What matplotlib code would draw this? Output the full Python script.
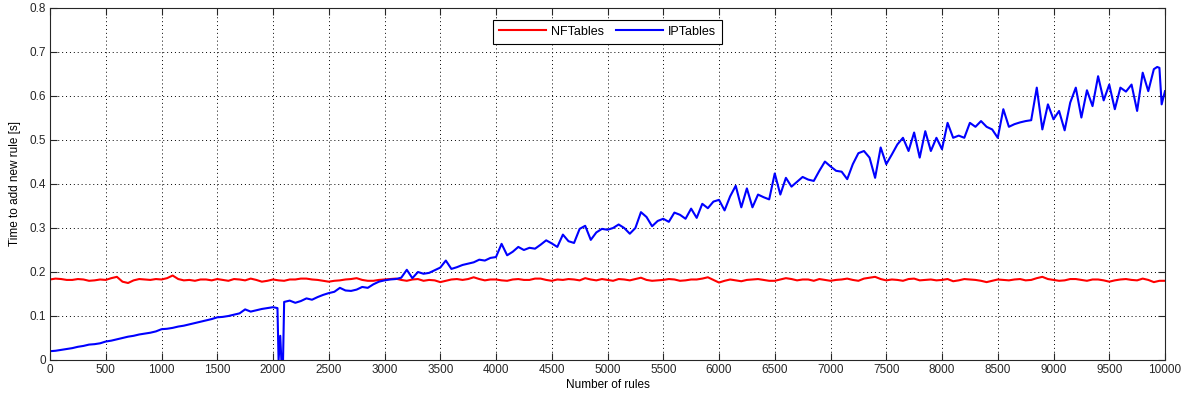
import numpy as np
import matplotlib.pyplot as plt

# ==== DATA ====
# IPTables insert time, sampled every 50 rules (0 .. 10000)
ipt_rules = np.arange(0, 10001, 50)
ipt_time = [
    # 0 - 2000
    0.020, 0.021, 0.023, 0.025, 0.027, 0.030, 0.032, 0.035, 0.036, 0.038,
    0.042, 0.044, 0.047, 0.050, 0.053, 0.055, 0.058, 0.060, 0.062, 0.065,
    0.070, 0.071, 0.073, 0.076, 0.078, 0.081, 0.084, 0.087, 0.090, 0.093,
    0.097, 0.098, 0.100, 0.103, 0.106, 0.115, 0.110, 0.113, 0.116, 0.118,
    0.120,
    # 2050 - 3000
    0.000, 0.132, 0.135, 0.130, 0.134, 0.140, 0.137, 0.143, 0.148, 0.152,
    0.155, 0.164, 0.158, 0.157, 0.160, 0.166, 0.164, 0.172, 0.178, 0.181,
    # 3050 - 4000
    0.183, 0.184, 0.187, 0.205, 0.186, 0.200, 0.196, 0.198, 0.204, 0.210,
    0.226, 0.207, 0.211, 0.216, 0.219, 0.222, 0.228, 0.226, 0.232, 0.234,
    # 4050 - 5000
    0.264, 0.238, 0.246, 0.257, 0.250, 0.255, 0.253, 0.262, 0.272, 0.265,
    0.257, 0.285, 0.270, 0.266, 0.298, 0.305, 0.273, 0.290, 0.298, 0.296,
    # 5050 - 6000
    0.300, 0.308, 0.300, 0.287, 0.300, 0.336, 0.325, 0.304, 0.316, 0.321,
    0.314, 0.335, 0.330, 0.321, 0.344, 0.323, 0.355, 0.345, 0.360, 0.364,
    # 6050 - 7000
    0.340, 0.372, 0.396, 0.347, 0.390, 0.347, 0.376, 0.370, 0.365, 0.424,
    0.376, 0.414, 0.394, 0.405, 0.416, 0.410, 0.407, 0.430, 0.451, 0.440,
    # 7050 - 8000
    0.430, 0.428, 0.411, 0.445, 0.470, 0.475, 0.460, 0.414, 0.483, 0.445,
    0.467, 0.490, 0.505, 0.475, 0.517, 0.460, 0.520, 0.475, 0.505, 0.479,
    # 8050 - 9000
    0.539, 0.505, 0.510, 0.505, 0.539, 0.530, 0.543, 0.530, 0.524, 0.505,
    0.570, 0.530, 0.536, 0.540, 0.543, 0.545, 0.619, 0.524, 0.581, 0.547,
    # 9050 - 10000
    0.566, 0.522, 0.585, 0.619, 0.551, 0.613, 0.577, 0.645, 0.590, 0.626,
    0.570, 0.619, 0.610, 0.626, 0.566, 0.653, 0.611, 0.661, 0.664, 0.611,
]
# extra samples around the drop near 2050 rules and the tail
ipt_extra_rules = [2040, 2065, 2075, 2090, 9930, 9970]
ipt_extra_time = [0.118, 0.055, 0.000, 0.000, 0.666, 0.581]

# NFTables insert time, sampled every 50 rules
nft_rules = np.arange(0, 10001, 50)
nft_time = [
    0.183, 0.185, 0.184, 0.182, 0.182, 0.184, 0.183, 0.180, 0.181, 0.183,
    0.182, 0.186, 0.189, 0.178, 0.175, 0.181, 0.184, 0.183, 0.182, 0.184,
    0.183, 0.186, 0.192, 0.184, 0.181, 0.182, 0.180, 0.183, 0.183, 0.181,
    0.184, 0.182, 0.180, 0.184, 0.183, 0.181, 0.185, 0.182, 0.178, 0.180,
    0.183, 0.181, 0.180, 0.183, 0.183, 0.185, 0.185, 0.183, 0.182, 0.180,
    0.178, 0.180, 0.181, 0.183, 0.184, 0.186, 0.182, 0.180, 0.180, 0.182,
    0.183, 0.184, 0.185, 0.182, 0.180, 0.183, 0.184, 0.180, 0.182, 0.181,
    0.177, 0.180, 0.183, 0.184, 0.182, 0.184, 0.188, 0.184, 0.181, 0.183,
    0.183, 0.181, 0.180, 0.183, 0.184, 0.182, 0.182, 0.185, 0.185, 0.182,
    0.180, 0.183, 0.182, 0.184, 0.183, 0.181, 0.186, 0.183, 0.181, 0.184,
    0.182, 0.180, 0.184, 0.183, 0.181, 0.184, 0.187, 0.182, 0.180, 0.181,
    0.182, 0.184, 0.183, 0.180, 0.181, 0.183, 0.183, 0.185, 0.188, 0.182,
    0.176, 0.180, 0.183, 0.181, 0.179, 0.182, 0.183, 0.184, 0.182, 0.180,
    0.180, 0.183, 0.186, 0.184, 0.181, 0.183, 0.183, 0.180, 0.184, 0.182,
    0.180, 0.182, 0.183, 0.185, 0.182, 0.180, 0.185, 0.187, 0.189, 0.184,
    0.181, 0.183, 0.182, 0.180, 0.184, 0.185, 0.181, 0.182, 0.183, 0.181,
    0.182, 0.184, 0.179, 0.181, 0.184, 0.183, 0.182, 0.180, 0.177, 0.180,
    0.183, 0.182, 0.181, 0.183, 0.184, 0.181, 0.182, 0.186, 0.189, 0.184,
    0.182, 0.180, 0.181, 0.184, 0.184, 0.182, 0.180, 0.183, 0.183, 0.181,
    0.178, 0.181, 0.183, 0.184, 0.182, 0.181, 0.185, 0.182, 0.177, 0.180,
    0.180,
]

assert len(ipt_time) == len(ipt_rules)
assert len(nft_time) == len(nft_rules)

x_ipt = np.concatenate([ipt_rules, ipt_extra_rules])
y_ipt = np.concatenate([ipt_time, ipt_extra_time])
order = np.argsort(x_ipt, kind='stable')
x_ipt, y_ipt = x_ipt[order], y_ipt[order]

# ==== PLOTTING ====
plt.rcParams['font.family'] = ['Liberation Sans', 'DejaVu Sans']
plt.rcParams['font.size'] = 8.5

fig = plt.figure(figsize=(11.85, 3.98), dpi=100)
ax = fig.add_axes([50 / 1185, 38 / 398, 1115 / 1185, 352 / 398])

ax.plot(nft_rules, nft_time, color='#ff0000', lw=1.5, label='NFTables')
ax.plot(x_ipt, y_ipt, color='#0000ff', lw=1.5, label='IPTables')

ax.set_xlim(0, 10000)
ax.set_ylim(0, 0.8)
ax.set_xticks(np.arange(0, 10001, 500))
ax.set_yticks(np.arange(0, 0.81, 0.1))
ax.set_yticklabels(['0', '0.1', '0.2', '0.3', '0.4', '0.5', '0.6', '0.7', '0.8'])
ax.tick_params(direction='in', top=True, right=True, length=5, width=0.8,
               colors='#262626', labelcolor='#262626', labelsize=8.5, pad=3)
ax.grid(True, linestyle=(0, (1, 3)), color='black', lw=0.7)
for s in ax.spines.values():
    s.set_color('#262626')
    s.set_linewidth(0.8)

ax.set_xlabel('Number of rules', fontsize=8.5, labelpad=2)
ax.set_ylabel('Time to add new rule [s]', fontsize=8.5, labelpad=6)

leg = ax.legend(loc='upper center', bbox_to_anchor=(0.5, 0.985), ncol=2,
                fancybox=False, edgecolor='black', framealpha=1,
                handlelength=3.8, columnspacing=0.9, handletextpad=0.4,
                borderpad=0.5, fontsize=9)
leg.get_frame().set_linewidth(0.8)

fig.savefig('out.png', dpi=100, facecolor='white')
